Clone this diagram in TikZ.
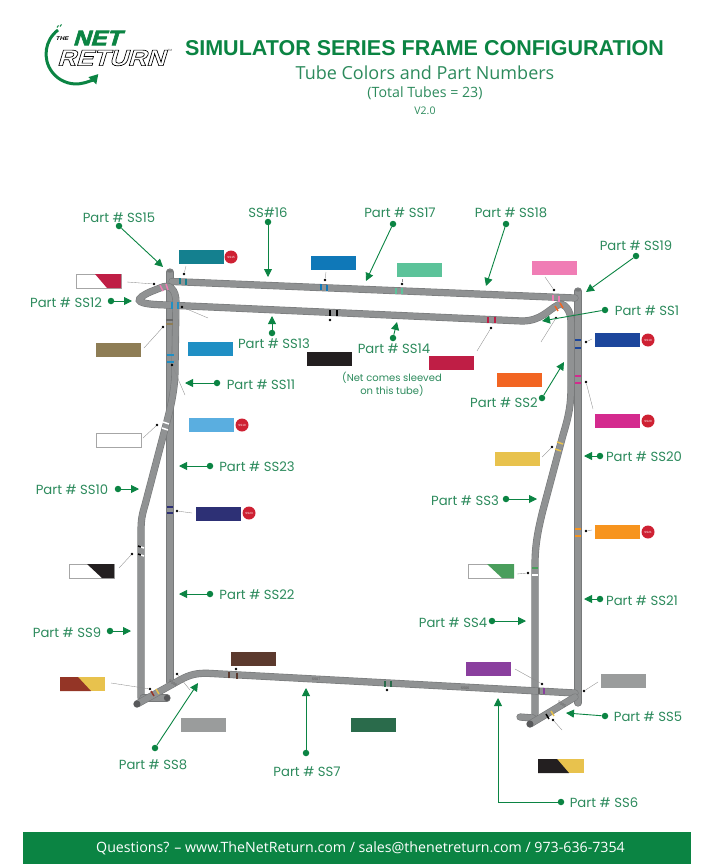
\documentclass[tikz,border=0pt]{standalone}
\usepackage{fontspec}
\usetikzlibrary{arrows.meta}
\setmainfont{Open Sans}
\newfontfamily\titlefont{Liberation Sans}
\newfontfamily\partfont{Poppins}
\newfontfamily\logofont[FakeSlant=0.3,FakeStretch=1.15]{Liberation Sans}
\newfontfamily\logoedge[FakeSlant=0.3,FakeStretch=1.15,FakeBold=3]{Liberation Sans}

\definecolor{brand}{HTML}{0B8443}
\definecolor{textgreen}{HTML}{2C8A5C}
\definecolor{tubefill}{HTML}{909293}
\definecolor{tubeedge}{HTML}{77797A}
\definecolor{capdark}{HTML}{58595B}
\definecolor{badgered}{HTML}{CE2133}
\definecolor{greybox}{HTML}{9A9C9C}
\definecolor{crimson}{HTML}{BF1E45}
\definecolor{sandy}{HTML}{E8C24D}
\definecolor{tealbox}{HTML}{14808F}
\definecolor{olivebox}{HTML}{8E7D55}
\definecolor{bluebox}{HTML}{1F8FC4}
\definecolor{deepblue}{HTML}{0F78B8}
\definecolor{mintbox}{HTML}{5CC39A}
\definecolor{pinkbox}{HTML}{F07DB5}
\definecolor{blackbox}{HTML}{231F20}
\definecolor{flamebox}{HTML}{F26522}
\definecolor{navybox}{HTML}{1C469C}
\definecolor{magentabox}{HTML}{D42A8E}
\definecolor{skybox}{HTML}{5AAEE0}
\definecolor{indigobox}{HTML}{2D3075}
\definecolor{orangebox}{HTML}{F7941E}
\definecolor{leafbox}{HTML}{4A9E5C}
\definecolor{brickbox}{HTML}{943526}
\definecolor{brownbox}{HTML}{5C3A2E}
\definecolor{pinebox}{HTML}{2A6B4B}
\definecolor{purplebox}{HTML}{8A3F9E}

\tikzset{
  tube/.style={draw=tubeedge, double=tubefill, double distance=6pt, line width=0.6pt, line cap=round},
  band/.style={line width=1.5pt},
  callout/.style={draw=brand, line width=0.9pt, -{Triangle[length=8pt,width=8pt]}},
  gdot/.style={circle, fill=brand, inner sep=0pt, minimum size=6.5pt},
  ldot/.style={circle, fill=black, inner sep=0pt, minimum size=2.8pt},
  leader/.style={draw=black!45, line width=0.35pt},
  partlabel/.style={text=textgreen, font=\partfont\fontsize{13.2}{15}\selectfont, inner sep=0pt, yshift=-0.7pt},
  swatch/.style={minimum width=45pt, minimum height=14pt, inner sep=0pt},
  badge/.style={circle, fill=badgered, text=white, inner sep=0pt, minimum size=13pt, font=\titlefont\fontsize{3}{3}\selectfont},
  tinytext/.style={text=black!65, font=\titlefont\fontsize{3.5}{4}\selectfont, inner sep=0pt}
}

\begin{document}
\begin{tikzpicture}[x=1pt, y=-1pt]
\useasboundingbox (0,0) rectangle (713,864);

% Logo
\draw[brand, line width=3pt, -{Triangle[length=9pt,width=10pt]}] (58,30) arc (233:42:30);
\draw[brand, line width=1pt] (57,27.5) -- (58.5,25.5);
\draw[brand, line width=1pt] (60,26.5) -- (61.5,24.5);
\node[inner sep=0pt, text=black] (logothe) at (62,39) {\logofont\bfseries\fontsize{5.5}{6}\selectfont THE};
\node[inner sep=0pt, text=brand] (logonet) at (97,38) {\logoedge\bfseries\fontsize{21}{22}\selectfont NET};
\node[inner sep=0pt] (logoreturn) at (111,58) {\logoedge\bfseries\fontsize{22.5}{23}\selectfont\special{pdf:bcolor [1 1 1] [0 0 0]}RETURN\special{pdf:ecolor}};
\node[inner sep=0pt, text=black!70] (logotm) at (170,50) {\titlefont\fontsize{3}{3}\selectfont TM};

% Heading
\node[inner sep=0pt, text=brand] (title) at (424.5,48) {\titlefont\bfseries\fontsize{21.5}{23}\selectfont SIMULATOR SERIES FRAME CONFIGURATION};
\node[inner sep=0pt, text=textgreen] (subtitle) at (425,73) {\fontsize{18}{20}\selectfont Tube Colors and Part Numbers};
\node[inner sep=0pt, text=textgreen] (total) at (425,93) {\fontsize{14.2}{16}\selectfont (Total Tubes = 23)};
\node[inner sep=0pt, text=textgreen] (version) at (425,111) {\fontsize{10.5}{12}\selectfont V2.0};

% Frame
\draw[tube] (170,272) -- (170,682);
\draw[tube] (578,291) -- (578,703);
\draw[tube] (172,281.5) -- (575,298);
\draw[tube] (535,714) -- (535,565) .. controls (535,545) and (538,530) .. (543,510) -- (563,435) .. controls (569,415) and (571,405) .. (571,385) -- (571,322) .. controls (571,310) and (564,302) .. (558,305) .. controls (548,310) and (541,321) .. (522,321) -- (155,304.5) .. controls (135,303) and (135,299) .. (150,292) -- (160,288) .. controls (170,283) and (176,290) .. (176,302) -- (175,370) .. controls (175,390) and (170,410) .. (166,425) -- (145,505) .. controls (142,515) and (141,520) .. (141,532) -- (141,698);
\draw[tube] (143,698) -- (167,698);
\draw[tube] (520,717) -- (533,718);
\draw[tube] (137,704) -- (180,680) .. controls (190,674.5) and (197,673) .. (208,673.3) -- (575,693);
\draw[tube] (530,724) -- (575,697);
\fill[capdark] (137,704) circle (3.5);
\fill[capdark] (167,698) circle (3.2);
\fill[capdark] (530,724) circle (3.5);
\fill[tubeedge] (170,271) ellipse (3.4 and 1.6);
\fill[tubeedge] (578,290) ellipse (3.4 and 1.6);

% Tube marks
\node[tinytext, rotate=3] (txtseven) at (316,679) {SS07};
\node[tinytext, rotate=3] (txtsix) at (465,688) {SS06};
\node[tinytext, rotate=-30] (txteight) at (173,683) {SS08};
\node[tinytext, rotate=-30] (txtfive) at (562,704) {SS05};

% Colour bands
\draw[band, tealbox] (180,278) -- (180,284) (186,278.5) -- (186,284.5);
\draw[band, pinkbox] (160,285) -- (163,291) (166,284) -- (168,290);
\draw[band, bluebox] (172,302) -- (172,309) (178,302) -- (178,309);
\draw[band, black!60] (166,320) -- (173,320);
\draw[band, olivebox] (166,324) -- (173,324);
\draw[band, bluebox] (166.5,355) -- (173.5,355) (167,362) -- (173.5,362);
\draw[band, white] (163,422) -- (169,424) (162,428) -- (168,430);
\draw[band, indigobox] (167,507) -- (173,507) (167,513) -- (173,513);
\draw[band, black] (138,546) -- (141,547) (138,554) -- (141,555);
\draw[band, white] (141,547) -- (144,548) (141,555) -- (144,556);
\draw[band, deepblue] (321,284) -- (321,290) (327,284.5) -- (327,290.5);
\draw[band, mintbox] (396,288) -- (396,294) (402,288) -- (402,294);
\draw[band, black] (330,310) -- (330,316) (337,310) -- (337,316);
\draw[band, crimson] (488,317) -- (488,323) (495,317) -- (495,323);
\draw[band, pinkbox] (553,295) -- (553,301) (559,296) -- (559,302);
\draw[band, flamebox] (555,306) -- (558,311) (560,303) -- (563,308);
\draw[band, navybox] (575,340) -- (581,340) (575,348) -- (581,348);
\draw[band, magentabox] (575,376) -- (581,376) (575,383) -- (581,383);
\draw[band, sandy] (557,442) -- (563,444) (555,449) -- (561,451);
\draw[band, orangebox] (575,529) -- (581,529) (575,536) -- (581,536);
\draw[band, leafbox] (532,568) -- (538,568);
\draw[band, white] (532,575) -- (538,575);
\draw[band, brickbox] (151,691) -- (154,696);
\draw[band, sandy] (156,689) -- (159,694);
\draw[band, brownbox] (229,672) -- (229,678) (237,672.5) -- (237,678.5);
\draw[band, pinebox] (385,681) -- (385,687) (391,681) -- (391,687);
\draw[band, purplebox] (544,688) -- (544,694);
\draw[band, black!60] (539,688) -- (539,694);
\draw[band, black] (546,714) -- (549,719);
\draw[band, sandy] (551,711) -- (554,716);

% Swatches
\node[swatch, fill=tealbox] (swfifteen) at (201,257) {};
\node[badge] (bdfifteen) at (231,257) {SS15};
\node[swatch, fill=white, draw=black!35] (swtwelve) at (98.5,281) {};
\fill[crimson] (95,274) -- (121,274) -- (121,288) -- (107,288) -- cycle;
\node[swatch, fill=olivebox] (swthirteenb) at (118.5,350) {};
\node[swatch, fill=bluebox] (swthirteen) at (210,349) {};
\node[swatch, fill=deepblue] (swsixteen) at (333,263) {};
\node[swatch, fill=mintbox] (swseventeen) at (419.5,270) {};
\node[swatch, fill=pinkbox] (sweighteen) at (554.5,268) {};
\node[swatch, fill=blackbox] (swfourteen) at (329.5,358.5) {};
\node[swatch, fill=crimson] (swone) at (451.5,362.5) {};
\node[swatch, fill=flamebox] (swtwo) at (519.5,379.5) {};
\node[swatch, fill=navybox] (swnineteen) at (617.5,340) {};
\node[badge] (bdnineteen) at (648,340) {SS19};
\node[swatch, fill=magentabox] (swtwenty) at (617.5,421) {};
\node[badge] (bdtwenty) at (648,421) {SS20};
\node[swatch, fill=skybox] (swten) at (211.5,425) {};
\node[badge] (bdten) at (242,425) {SS10};
\node[swatch, fill=white, draw=black!35] (swelevenb) at (118.5,440) {};
\node[swatch, fill=indigobox] (swtwentythree) at (218.5,513.5) {};
\node[badge] (bdtwentythree) at (249,513) {SS23};
\node[swatch, fill=white, draw=black!35] (swnine) at (91.5,571) {};
\fill[blackbox] (87,564) -- (114,564) -- (114,578) -- (102,578) -- cycle;
\node[swatch, fill=sandy] (swthree) at (517.5,459) {};
\node[swatch, fill=orangebox] (swtwentyone) at (617.5,532) {};
\node[badge] (bdtwentyone) at (648,532) {SS21};
\node[swatch, fill=white, draw=black!35] (swfour) at (491,571) {};
\fill[leafbox] (487,564) -- (514,564) -- (514,578) -- (502,578) -- cycle;
\node[swatch, fill=sandy] (sweightb) at (82.5,684) {};
\fill[brickbox] (60,677) -- (78,677) -- (91,691) -- (60,691) -- cycle;
\node[swatch, fill=brownbox] (swseven) at (253.5,659) {};
\node[swatch, fill=greybox] (sweight) at (203.5,724.5) {};
\node[swatch, fill=pinebox] (swsevenb) at (373,725) {};
\node[swatch, fill=purplebox] (swsix) at (488.5,669) {};
\node[swatch, fill=greybox] (swtwentytwo) at (623,681) {};
\node[swatch, fill=sandy] (swfive) at (561,766) {};
\fill[blackbox] (538,759) -- (557,759) -- (569,773) -- (538,773) -- cycle;

% Leaders
\node[ldot] (lfifteen) at (184,274) {};
\coordinate (efifteen) at (186,266);
\draw[leader] (lfifteen) -- (efifteen);
\node[ldot] (ltwelve) at (154,284) {};
\coordinate (etwelve) at (127,282);
\draw[leader] (ltwelve) -- (etwelve);
\node[ldot] (lthirteen) at (182,307) {};
\coordinate (ethirteen) at (208,318);
\draw[leader] (lthirteen) -- (ethirteen);
\node[ldot] (lolive) at (163,327) {};
\coordinate (eolive) at (144,348);
\draw[leader] (lolive) -- (eolive);
\node[ldot] (leleven) at (172,365) {};
\coordinate (eeleven) at (185,395);
\draw[leader] (leleven) -- (eeleven);
\node[ldot] (lwhite) at (157,425) {};
\coordinate (ewhite) at (143,438);
\draw[leader] (lwhite) -- (ewhite);
\node[ldot] (lindigo) at (177,511) {};
\coordinate (eindigo) at (192,513);
\draw[leader] (lindigo) -- (eindigo);
\node[ldot] (lnine) at (132,554) {};
\coordinate (enine) at (119,568);
\draw[leader] (lnine) -- (enine);
\node[ldot] (lsixteen) at (325,280) {};
\coordinate (esixteen) at (326,272);
\draw[leader] (lsixteen) -- (esixteen);
\node[ldot] (lseventeen) at (402,284) {};
\coordinate (eseventeen) at (402,279);
\draw[leader] (lseventeen) -- (eseventeen);
\node[ldot] (lfourteen) at (330,320) {};
\node[ldot] (lone) at (491,328) {};
\coordinate (eone) at (477,351);
\draw[leader] (lone) -- (eone);
\node[ldot] (leighteen) at (554,290) {};
\coordinate (eeighteen) at (545,277);
\draw[leader] (leighteen) -- (eeighteen);
\node[ldot] (ltwo) at (556,318) {};
\coordinate (etwo) at (541,342);
\draw[leader] (ltwo) -- (etwo);
\node[ldot] (lnineteen) at (586,342) {};
\coordinate (enineteen) at (592,339);
\draw[leader] (lnineteen) -- (enineteen);
\node[ldot] (ltwenty) at (586,382) {};
\coordinate (etwenty) at (593,409);
\draw[leader] (ltwenty) -- (etwenty);
\node[ldot] (lthree) at (552,447) {};
\coordinate (ethree) at (542,457);
\draw[leader] (lthree) -- (ethree);
\node[ldot] (ltwentyone) at (586,531) {};
\coordinate (etwentyone) at (592,530);
\draw[leader] (ltwentyone) -- (etwentyone);
\node[ldot] (lfour) at (528,573) {};
\coordinate (efour) at (517,574);
\draw[leader] (lfour) -- (efour);
\node[ldot] (lbrick) at (150,689) {};
\coordinate (ebrick) at (111,683);
\draw[leader] (lbrick) -- (ebrick);
\node[ldot] (lseven) at (236,669) {};
\node[ldot] (leight) at (177,674) {};
\coordinate (eeight) at (190,690);
\draw[leader] (leight) -- (eeight);
\node[ldot] (lsevenb) at (387,690) {};
\node[ldot] (lsix) at (542,684) {};
\coordinate (esix) at (515,669);
\draw[leader] (lsix) -- (esix);
\node[ldot] (ltwentytwo) at (584,691) {};
\coordinate (etwentytwo) at (598,682);
\draw[leader] (ltwentytwo) -- (etwentytwo);
\node[ldot] (lfive) at (553,720) {};
\coordinate (efive) at (562,730);
\draw[leader] (lfive) -- (efive);

% Part callouts
\node[gdot] (ssfifteen) at (119,226) {};
\coordinate (ssfifteentip) at (163,267);
\draw[callout] (ssfifteen) -- (ssfifteentip);
\node[partlabel] at (119,217) {Part \# SS15};
\node[gdot] (sssixteen) at (268,222) {};
\coordinate (sssixteentip) at (268,277);
\draw[callout] (sssixteen) -- (sssixteentip);
\node[partlabel] at (268,212) {SS\#16};
\node[gdot] (ssseventeen) at (393,224) {};
\coordinate (ssseventeentip) at (366,281);
\draw[callout] (ssseventeen) -- (ssseventeentip);
\node[partlabel] at (400,212) {Part \# SS17};
\node[gdot] (sseighteen) at (506,224) {};
\coordinate (sseighteentip) at (486,286);
\draw[callout] (sseighteen) -- (sseighteentip);
\node[partlabel] at (511,212) {Part \# SS18};
\node[gdot] (ssnineteen) at (636,256) {};
\coordinate (ssnineteentip) at (586,292);
\draw[callout] (ssnineteen) -- (ssnineteentip);
\node[partlabel] at (636,245) {Part \# SS19};
\node[gdot] (ssone) at (605,310) {};
\coordinate (ssonetip) at (542,321);
\draw[callout] (ssone) -- (ssonetip);
\node[partlabel] at (647,310) {Part \# SS1};
\node[gdot] (sstwo) at (542,398) {};
\coordinate (sstwotip) at (564,362);
\draw[callout] (sstwo) -- (sstwotip);
\node[partlabel] at (504,402) {Part \# SS2};
\node[gdot] (sstwenty) at (600,456) {};
\coordinate (sstwentytip) at (584,456);
\draw[callout] (sstwenty) -- (sstwentytip);
\node[partlabel] at (644,456) {Part \# SS20};
\node[gdot] (ssthree) at (506,499) {};
\coordinate (ssthreetip) at (537,499);
\draw[callout] (ssthree) -- (ssthreetip);
\node[partlabel] at (465,500) {Part \# SS3};
\node[gdot] (sstwentyone) at (600,599) {};
\coordinate (sstwentyonetip) at (584,599);
\draw[callout] (sstwentyone) -- (sstwentyonetip);
\node[partlabel] at (642,600) {Part \# SS21};
\node[gdot] (ssfour) at (492,621) {};
\coordinate (ssfourtip) at (526,621);
\draw[callout] (ssfour) -- (ssfourtip);
\node[partlabel] at (453,622) {Part \# SS4};
\node[gdot] (ssfive) at (605,716) {};
\coordinate (ssfivetip) at (566,713);
\draw[callout] (ssfive) -- (ssfivetip);
\node[partlabel] at (648,716) {Part \# SS5};
\node[gdot] (sssix) at (561,802) {};
\coordinate (sssixtip) at (498,698);
\draw[callout] (sssix) -- (498,802) -- (sssixtip);
\node[partlabel] at (604,802) {Part \# SS6};
\node[gdot] (ssseven) at (306,753) {};
\coordinate (sssevenip) at (306,688);
\draw[callout] (ssseven) -- (sssevenip);
\node[partlabel] at (307,771) {Part \# SS7};
\node[gdot] (sseight) at (155,748) {};
\coordinate (sseighttip) at (198,683);
\draw[callout] (sseight) -- (sseighttip);
\node[partlabel] at (153,764) {Part \# SS8};
\node[gdot] (ssnine) at (110,631) {};
\coordinate (ssninetip) at (131,631);
\draw[callout] (ssnine) -- (ssninetip);
\node[partlabel] at (67,632) {Part \# SS9};
\node[gdot] (ssten) at (118,489) {};
\coordinate (sstentip) at (139,489);
\draw[callout] (ssten) -- (sstentip);
\node[partlabel] at (72,489) {Part \# SS10};
\node[gdot] (sstwentytwo) at (210,594) {};
\coordinate (sstwentytwotip) at (179,594);
\draw[callout] (sstwentytwo) -- (sstwentytwotip);
\node[partlabel] at (257,594) {Part \# SS22};
\node[gdot] (sstwentythree) at (210,466) {};
\coordinate (sstwentythreetip) at (179,466);
\draw[callout] (sstwentythree) -- (sstwentythreetip);
\node[partlabel] at (257,466) {Part \# SS23};
\node[gdot] (sseleven) at (217,383) {};
\coordinate (ssseleventip) at (185,383);
\draw[callout] (sseleven) -- (ssseleventip);
\node[partlabel] at (261,384) {Part \# SS11};
\node[gdot] (sstwelve) at (111,301) {};
\coordinate (sstwelvetip) at (132,301);
\draw[callout] (sstwelve) -- (sstwelvetip);
\node[partlabel] at (66,302) {Part \# SS12};
\node[gdot] (ssthirteen) at (272,333) {};
\coordinate (ssthirteentip) at (272,316);
\draw[callout] (ssthirteen) -- (ssthirteentip);
\node[partlabel] at (274,343) {Part \# SS13};
\node[gdot] (ssfourteen) at (393,338) {};
\coordinate (ssfourteentip) at (397,322);
\draw[callout] (ssfourteen) -- (ssfourteentip);
\node[partlabel] at (394,348) {Part \# SS14};
\node[text=textgreen, align=center, inner sep=0pt, font=\partfont\fontsize{10}{13}\selectfont] at (392,384) {(Net comes sleeved\\on this tube)};

% Footer
\fill[brand] (23,832) rectangle (691,864);
\node[inner sep=0pt, text=white] (footer) at (360.5,848) {\fontsize{14.2}{16}\selectfont Questions? -- www.TheNetReturn.com / sales@thenetreturn.com / 973-636-7354};

\end{tikzpicture}
\end{document}
